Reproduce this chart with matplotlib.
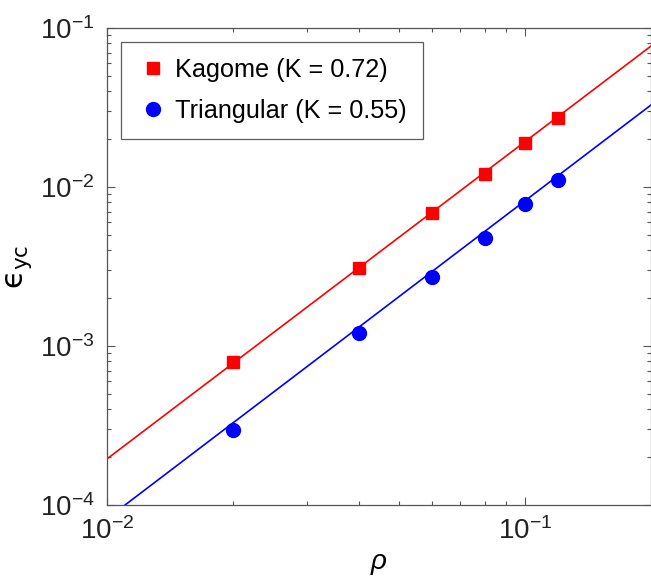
import matplotlib
matplotlib.use("Agg")
import matplotlib.pyplot as plt
from matplotlib.ticker import LogLocator, NullFormatter

plt.rcParams['font.family'] = ['Liberation Sans', 'DejaVu Sans']
plt.rcParams['mathtext.fontset'] = 'custom'
plt.rcParams['mathtext.rm'] = 'Liberation Sans'
plt.rcParams['mathtext.it'] = 'Liberation Sans:italic'

# measured points
rho = [0.02, 0.04, 0.06, 0.08, 0.10, 0.12]
eps_kagome = [7.9e-4, 3.1e-3, 6.85e-3, 1.21e-2, 1.89e-2, 2.72e-2]
eps_triang = [2.97e-4, 1.21e-3, 2.72e-3, 4.78e-3, 7.8e-3, 1.11e-2]

# fitted lines (end points)
fit_rho = [0.01, 0.2]
fit_kagome = [1.95e-4, 7.7e-2]
fit_triang = [8.2e-5, 3.28e-2]

labels = ['Kagome (K = 0.72)', 'Triangular (K = 0.55)']

fig = plt.figure(figsize=(6.51, 5.81), dpi=100)
ax = fig.add_axes([0.1644, 0.1308, 0.8356, 0.8210])

ax.plot(fit_rho, fit_kagome, color='red', lw=1.2)
ax.plot(fit_rho, fit_triang, color='blue', lw=1.2)
ax.plot(rho, eps_kagome, 's', color='red', ms=8.5, label=labels[0])
ax.plot(rho, eps_triang, 'o', color='blue', ms=10, label=labels[1])

ax.set_xscale('log')
ax.set_yscale('log')
ax.set_xlim(0.01, 0.2)
ax.set_ylim(1e-4, 1e-1)

ax.xaxis.set_major_locator(LogLocator(base=10))
ax.yaxis.set_major_locator(LogLocator(base=10))
ax.xaxis.set_minor_formatter(NullFormatter())
ax.yaxis.set_minor_formatter(NullFormatter())
ax.tick_params(which='both', direction='in', top=True, right=True,
               colors='#555555', labelcolor='#222222', labelsize=20, width=0.8)
ax.tick_params(which='major', length=6, pad=9)
ax.tick_params(which='minor', length=3)
for s in ax.spines.values():
    s.set_color('#555555')
    s.set_linewidth(0.9)

ax.set_xlabel(r'$\it{\rho}$', fontsize=20, labelpad=4)
ax.set_ylabel('$\\mathrm{\u03f5}_{\\rm yc}$', fontsize=22, labelpad=4,
              math_fontfamily='dejavusans')

leg = ax.legend(loc='upper left', fontsize=18.2, frameon=True, fancybox=False,
                edgecolor='#333333', borderpad=0.65, labelspacing=0.65,
                handletextpad=0.3, handlelength=1.2, borderaxespad=0.55)
leg.get_frame().set_linewidth(0.9)

fig.savefig('out.png', dpi=100)
